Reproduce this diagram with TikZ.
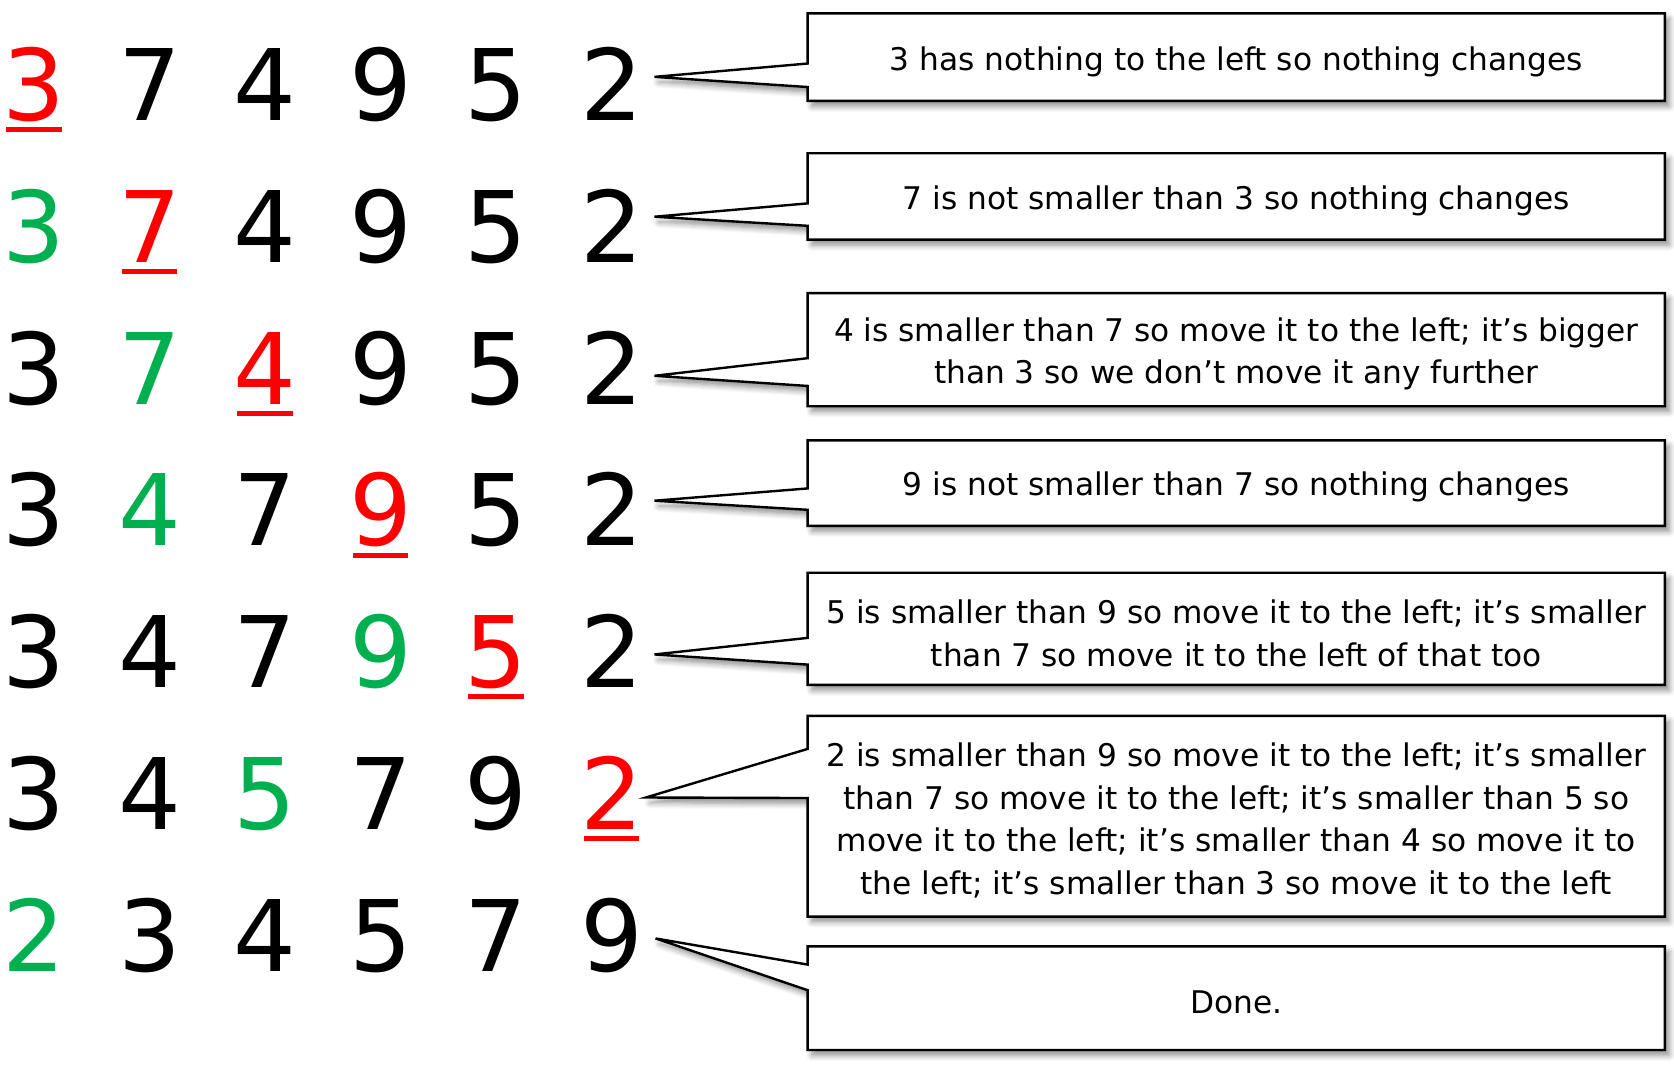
\documentclass[tikz,border=0pt]{standalone}
\usepackage{fontspec}
\setmainfont{DejaVu Sans}
\usetikzlibrary{calc,backgrounds,shadows.blur}
\definecolor{markred}{RGB}{255,0,0}
\definecolor{donegreen}{RGB}{0,176,80}
\tikzstyle{num}=[inner sep=0pt,anchor=base,
                 font=\fontsize{37}{37}\selectfont]
\tikzstyle{cur}=[num,text=markred]
\tikzstyle{fix}=[num,text=donegreen]
\tikzstyle{std}=[num,text=black]
\tikzstyle{uline}=[draw=markred,line width=1.9pt]
\tikzstyle{callbox}=[inner sep=0pt,minimum width=320.8pt]
\tikzstyle{calltext}=[inner sep=0pt,align=center,
                      font=\fontsize{11.7}{16}\selectfont]
\tikzstyle{callout}=[draw=black,line width=0.9pt,fill=white,line join=miter,
                     blur shadow={shadow xshift=1.6pt,shadow yshift=-2pt,
                                  shadow blur steps=6,shadow opacity=45}]

\begin{document}
\begin{tikzpicture}[x=0.4pt,y=0.4pt]
  \useasboundingbox (0,0) rectangle (1568,-1008);
  % the list after each step
  \foreach \d/\s [count=\c] in {3/cur,7/std,4/std,9/std,5/std,2/std}
    \node[\s] (r1c\c) at ({32+108.2*(\c-1)},-113) {\d};
  \foreach \d/\s [count=\c] in {3/fix,7/cur,4/std,9/std,5/std,2/std}
    \node[\s] (r2c\c) at ({32+108.2*(\c-1)},-245.8) {\d};
  \foreach \d/\s [count=\c] in {3/std,7/fix,4/cur,9/std,5/std,2/std}
    \node[\s] (r3c\c) at ({32+108.2*(\c-1)},-378.6) {\d};
  \foreach \d/\s [count=\c] in {3/std,4/fix,7/std,9/cur,5/std,2/std}
    \node[\s] (r4c\c) at ({32+108.2*(\c-1)},-511.4) {\d};
  \foreach \d/\s [count=\c] in {3/std,4/std,7/std,9/fix,5/cur,2/std}
    \node[\s] (r5c\c) at ({32+108.2*(\c-1)},-644.2) {\d};
  \foreach \d/\s [count=\c] in {3/std,4/std,5/fix,7/std,9/std,2/cur}
    \node[\s] (r6c\c) at ({32+108.2*(\c-1)},-777) {\d};
  \foreach \d/\s [count=\c] in {2/fix,3/std,4/std,5/std,7/std,9/std}
    \node[\s] (r7c\c) at ({32+108.2*(\c-1)},-909.8) {\d};
  % underline the element being inserted
  \foreach \n in {r1c1,r2c2,r3c3,r4c4,r5c5,r6c6}
    \draw[uline] ($(\n.base)+(-26,-8.5)$) -- ($(\n.base)+(26,-8.5)$);

  % callout tips
  \coordinate (t1) at (613,-72);
  \coordinate (t2) at (613,-203);
  \coordinate (t3) at (613,-352);
  \coordinate (t4) at (613,-469);
  \coordinate (t5) at (613,-613);
  \coordinate (t6) at (605,-747);
  \coordinate (t7) at (614,-879);

  % callout boxes
  \node[callbox,minimum height=32.4pt] (b1) at (1158,-53.5) {};
  \node[callbox,minimum height=32pt]   (b2) at (1158,-184) {};
  \node[callbox,minimum height=42pt]   (b3) at (1158,-327.5) {};
  \node[callbox,minimum height=31.6pt] (b4) at (1158,-452.5) {};
  \node[callbox,minimum height=41.6pt] (b5) at (1158,-589) {};
  \node[callbox,minimum height=74.8pt] (b6) at (1158,-764.5) {};
  \node[callbox,minimum height=38.4pt] (b7) at (1158,-935) {};

  \begin{scope}[on background layer]
    \foreach \b/\ua/\ub in {1/47/69,2/47/68,3/61/87,4/45/65,
                            5/61/86,6/31/77,7/17/41}
      \draw[callout] (b\b.north west) -- (b\b.north east)
        -- (b\b.south east) -- (b\b.south west)
        -- ($(b\b.north west)+(0,-\ub)$) -- (t\b)
        -- ($(b\b.north west)+(0,-\ua)$) -- cycle;
  \end{scope}

  % callout texts
  \node[calltext] (x1) at ($(b1)+(0,-4)$)
    {3 has nothing to the left so nothing changes};
  \node[calltext] (x2) at ($(b2)+(0,-4)$)
    {7 is not smaller than 3 so nothing changes};
  \node[calltext] (x3) at ($(b3)+(0,-4)$)
    {4 is smaller than 7 so move it to the left; it’s bigger\\
     than 3 so we don’t move it any further};
  \node[calltext] (x4) at ($(b4)+(0,-4)$)
    {9 is not smaller than 7 so nothing changes};
  \node[calltext] (x5) at ($(b5)+(0,-4)$)
    {5 is smaller than 9 so move it to the left; it’s smaller\\
     than 7 so move it to the left of that too};
  \node[calltext] (x6) at ($(b6)+(0,-4)$)
    {2 is smaller than 9 so move it to the left; it’s smaller\\
     than 7 so move it to the left; it’s smaller than 5 so\\
     move it to the left; it’s smaller than 4 so move it to\\
     the left; it’s smaller than 3 so move it to the left};
  \node[calltext] (x7) at ($(b7)+(0,-4)$) {Done.};
\end{tikzpicture}
\end{document}
